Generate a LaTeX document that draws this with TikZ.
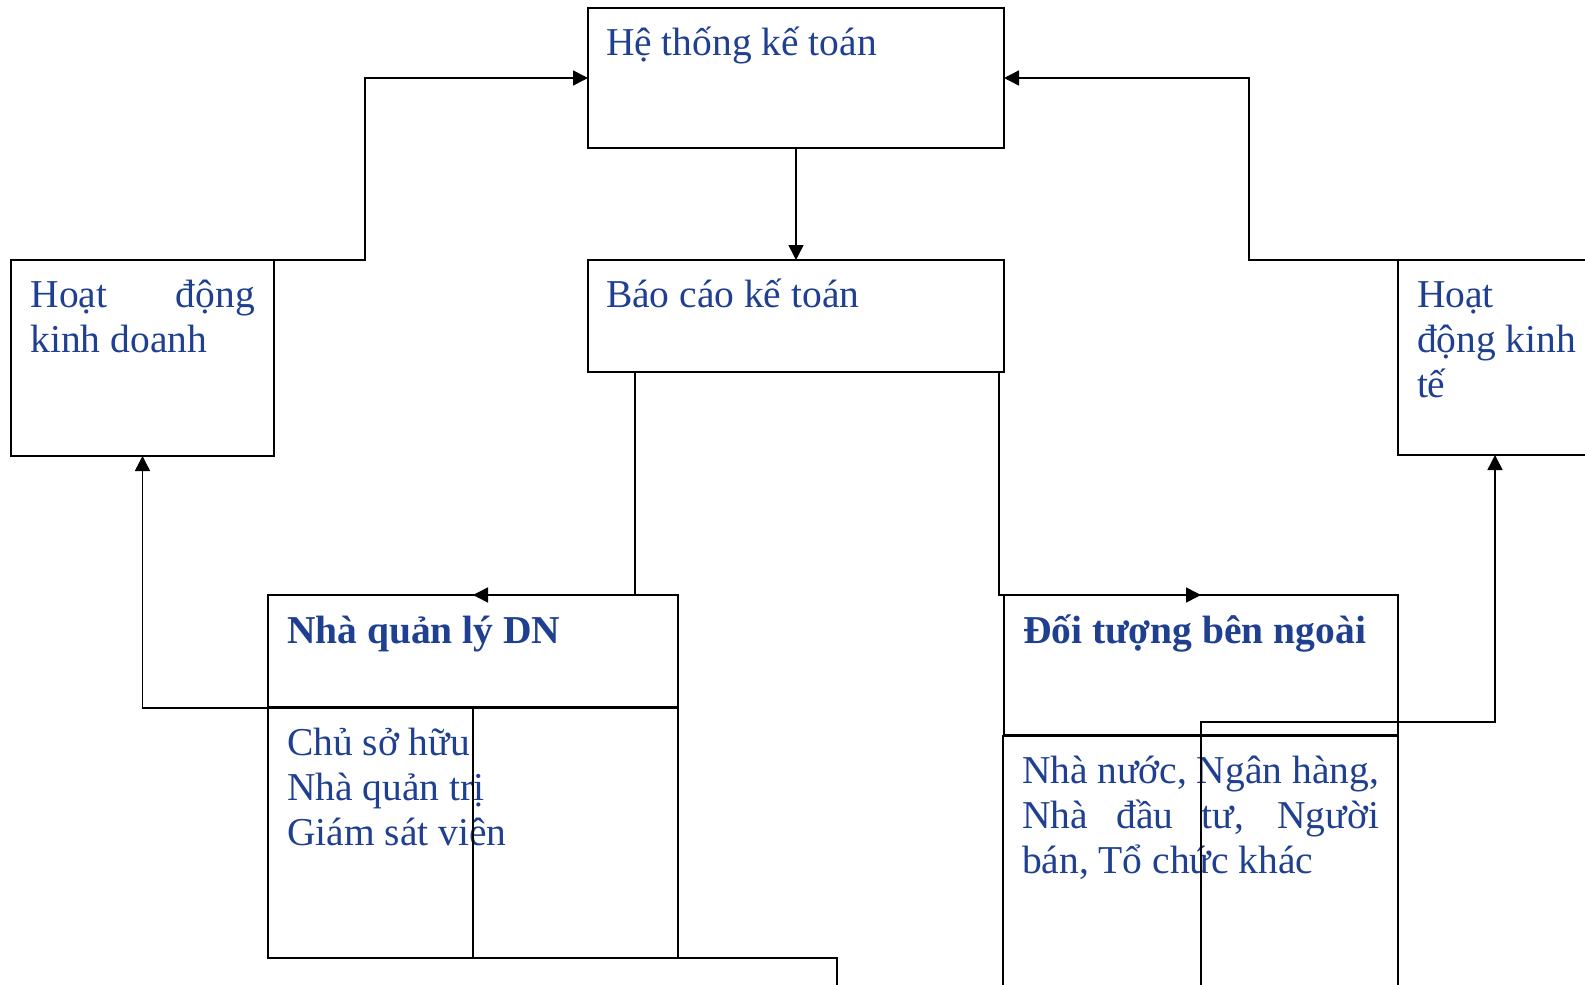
\documentclass[tikz,border=0pt]{standalone}
\usepackage{fontspec}
\setmainfont{Liberation Serif}
\usetikzlibrary{arrows.meta,calc}
\definecolor{txtblue}{RGB}{31,63,145}
\begin{document}
\begin{tikzpicture}[x=1pt,y=-1pt,
  box/.style={draw=black, line width=1.8pt, anchor=north west, inner sep=0pt, outer sep=0pt},
  lbl/.style={anchor=base west, inner sep=0pt, outer sep=0pt, text=txtblue, font=\fontsize{39.5}{45}\selectfont},
  conn/.style={draw=black, line width=1.5pt},
  arr/.style={conn, -{Triangle[length=15pt,width=15pt]}}]
\useasboundingbox (0,0) rectangle (1585,985);
\clip (0,0) rectangle (1585,985);
\fill[white] (0,0) rectangle (1585,985);
% boxes
\node[box, minimum width=416pt, minimum height=140pt] (ht) at (588,8) {};
\node[box, minimum width=416pt, minimum height=112pt] (bc) at (588,260) {};
\node[box, minimum width=263pt, minimum height=196pt] (hk) at (11,260) {};
\node[box, minimum width=194pt, minimum height=195pt] (hkt) at (1398,260) {};
\node[box, minimum width=410pt, minimum height=112pt] (nql) at (268,595) {};
\node[box, minimum width=410pt, minimum height=250pt] (nqlB) at (268,708) {};
\node[box, minimum width=394pt, minimum height=140pt] (dt) at (1004,595) {};
\node[box, minimum width=395pt, minimum height=280pt] (dtB) at (1003,736) {};
% texts
\node[lbl] (htT) at (606,55) {Hệ thống kế toán};
\node[lbl] (bcT) at (606,307) {Báo cáo kế toán};
\node[lbl] (hkT) at (30.5,307) {\parbox[t]{240pt}{\makebox[224.5pt][s]{Hoạt động}\\kinh doanh}};
\node[lbl] (hktT) at (1417,307) {\parbox[t]{170pt}{Hoạt\\động kinh\\tế}};
\node[lbl, font=\fontsize{39.5}{45}\selectfont\bfseries] (nqlT) at (287,643) {Nhà quản lý DN};
\node[lbl] (nqlBT) at (287,755) {\parbox[t]{300pt}{Chủ sở hữu\\Nhà quản trị\\Giám sát viên}};
\node[lbl, font=\fontsize{39.5}{45}\selectfont\bfseries] (dtT) at (1023,643) {Đối tượng bên ngoài};
\node[lbl] (dtBT) at (1022,783) {\parbox[t]{370pt}{\makebox[357pt][s]{Nhà nước, Ngân hàng,}\\\makebox[357pt][s]{Nhà đầu tư, Người}\\bán, Tổ chức khác}};
% connectors
\draw[arr] (ht.south) -- (bc.north);
\draw[arr] (hk.north east) -- ++(91,0) |- (ht.west);
\draw[arr] (hkt.north west) -- ++(-149,0) |- (ht.east);
\draw[arr] ($(bc.south west)+(47,0)$) |- (nql.north);
\draw[arr] ($(bc.south east)+(-5,0)$) |- (dt.north);
\coordinate (c1) at (837,995);
\draw[arr] (c1) -- ++(0,-37) -- ++(-364,0) -- ++(0,-250) -| (hk.south);
\coordinate (c2) at (1201,995);
\draw[arr] (c2) -- ++(0,-273) -| (hkt.south);
\end{tikzpicture}
\end{document}
